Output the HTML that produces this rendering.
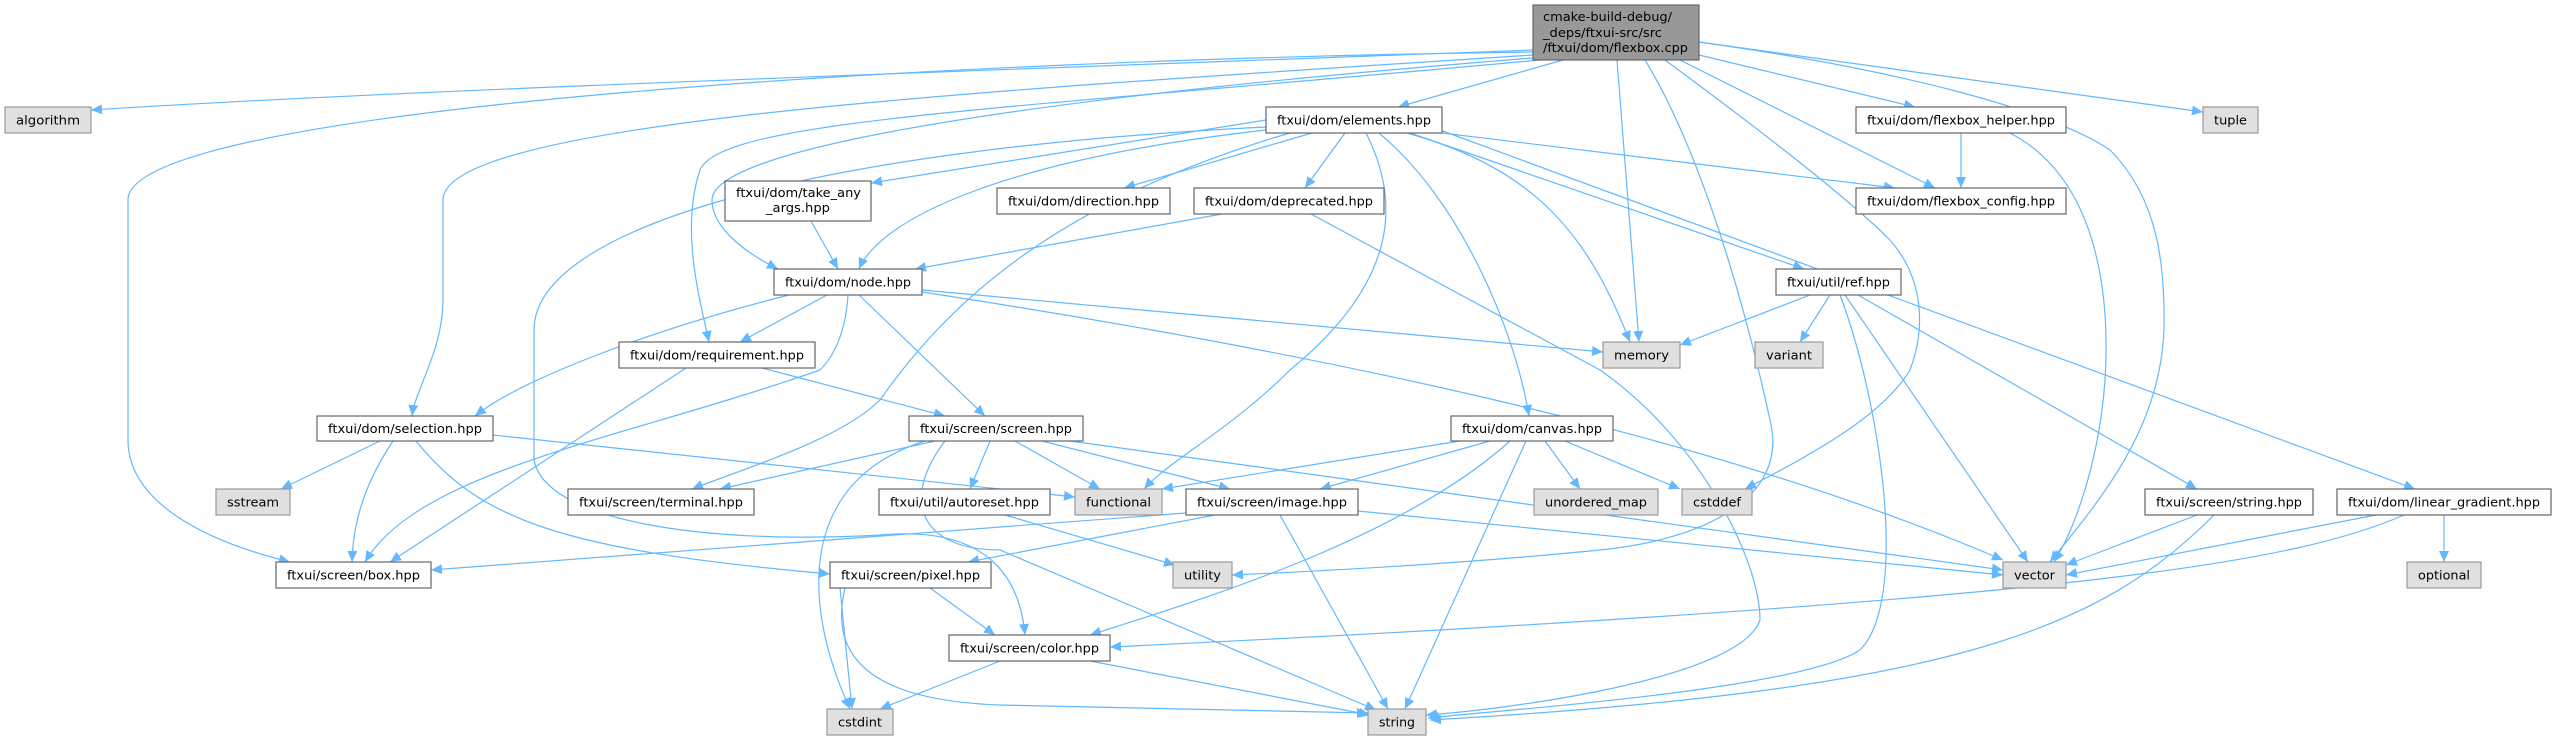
<!DOCTYPE html>
<html><head><meta charset="utf-8"><style>
html,body{margin:0;padding:0;background:#fff;}
svg{display:block;}
text{font-family:"DejaVu Sans","Liberation Sans",sans-serif;font-size:12px;fill:#000;}
.e{fill:none;stroke:#63b8ff;stroke-width:1.2;marker-end:url(#ah);}
.p{fill:#fff;stroke:#666;stroke-width:1.2;}
.x{fill:#e0e0e0;stroke:#999;stroke-width:1.2;}
.r{fill:#999;stroke:#666;stroke-width:1.2;}
</style></head><body>
<svg width="2557" height="740" viewBox="0 0 2557 740" xmlns="http://www.w3.org/2000/svg">
<defs><marker id="ah" markerUnits="userSpaceOnUse" markerWidth="12" markerHeight="10" refX="11" refY="5" orient="auto"><path d="M0,0 L11,5 L0,10 z" fill="#63b8ff"/></marker></defs>
<g>
<path class="e" d="M1533,50 C1000,70 400,90 91,110"/>
<path class="e" d="M1533,52 C900,60 128,110 128,200 L128,440 C128,500 200,540 290,562"/>
<path class="e" d="M1533,55 C1000,90 443,120 443,200 L443,300 C443,350 415,390 412,416"/>
<path class="e" d="M1540,60 C1000,110 720,120 700,170 C680,230 700,300 709,342"/>
<path class="e" d="M1533,58 C1000,100 712,150 712,200 C712,230 750,255 778,269"/>
<path class="e" d="M1563,60 L1398,107"/>
<path class="e" d="M1617,60 L1639,342"/>
<path class="e" d="M1645,60 C1700,150 1744,300 1770,420 C1790,500 1700,540 1600,550 C1450,565 1300,572 1232,575"/>
<path class="e" d="M1665,60 C1760,130 1850,200 1890,240 C1925,280 1925,330 1910,370 C1880,420 1800,460 1745,489"/>
<path class="e" d="M1699,42 C1900,70 2050,110 2110,150 C2160,200 2165,270 2164,330 C2160,430 2100,500 2050,562"/>
<path class="e" d="M1699,42 L2203,112"/>
<path class="e" d="M1699,55 L1915,107"/>
<path class="e" d="M1680,60 L1935,188"/>

<path class="e" d="M1266,120 L871,183"/>
<path class="e" d="M1266,130 C1000,160 880,220 859,269"/>
<path class="e" d="M1312,133 L1124,188"/>
<path class="e" d="M1345,133 L1305,188"/>
<path class="e" d="M1442,133 L1895,188"/>
<path class="e" d="M1410,133 L1804,269"/>
<path class="e" d="M1440,130 L2415,489"/>
<path class="e" d="M1407,133 C1540,170 1590,240 1630,342"/>
<path class="e" d="M1379,133 C1460,200 1515,330 1529,416"/>
<path class="e" d="M1366,133 C1400,200 1400,280 1290,370 C1230,430 1170,460 1144,489"/>
<path class="e" d="M1290,133 C1060,200 950,300 880,400 C840,440 740,470 692,489"/>
<path class="e" d="M1266,127 C800,150 534,230 534,330 L534,460 C545,520 700,545 880,535 C990,525 1020,580 1025,635"/>

<path class="e" d="M789,295 C650,330 520,380 475,416"/>
<path class="e" d="M827,295 L740,342"/>
<path class="e" d="M859,295 L985,416"/>
<path class="e" d="M848,295 C845,340 830,360 820,370 C620,440 420,470 365,562"/>
<path class="e" d="M922,290 L1603,352"/>
<path class="e" d="M922,292 C1300,350 1700,430 2003,560"/>
<path class="e" d="M1222,214 L915,269"/>
<path class="e" d="M1311,214 L1600,370 C1700,440 1760,560 1760,620 C1740,680 1500,710 1426,715"/>
<path class="e" d="M811,221 L838,269"/>

<path class="e" d="M686,368 L390,562"/>
<path class="e" d="M762,368 L945,416"/>

<path class="e" d="M380,441 L281,489"/>
<path class="e" d="M393,441 C360,490 353,530 352,562"/>
<path class="e" d="M493,435 L1075,497"/>
<path class="e" d="M416,441 C480,520 560,550 830,574"/>

<path class="e" d="M935,441 L720,489"/>
<path class="e" d="M990,441 L970,489"/>
<path class="e" d="M1015,441 L1100,489"/>
<path class="e" d="M1042,441 L1230,489"/>
<path class="e" d="M1070,441 L2003,570"/>
<path class="e" d="M945,441 C900,500 920,550 1000,550 L1376,710"/>
<path class="e" d="M925,441 C800,480 800,600 850,709"/>

<path class="e" d="M1005,515 L1175,565"/>
<path class="e" d="M1186,513 L431,570"/>
<path class="e" d="M1215,515 L968,562"/>
<path class="e" d="M1280,515 L1388,709"/>
<path class="e" d="M1358,511 L2003,575"/>

<path class="e" d="M1460,441 L1162,489"/>
<path class="e" d="M1490,441 L1320,489"/>
<path class="e" d="M1545,441 L1580,489"/>
<path class="e" d="M1565,441 L1680,489"/>
<path class="e" d="M1510,441 C1400,540 1200,600 1090,635"/>
<path class="e" d="M1526,441 L1405,709"/>

<path class="e" d="M1810,295 L1680,345"/>
<path class="e" d="M1830,295 L1800,342"/>
<path class="e" d="M1845,295 L2028,562"/>
<path class="e" d="M1840,295 C1880,400 1910,600 1860,650 C1800,690 1500,710 1428,718"/>
<path class="e" d="M1858,295 L2197,489"/>

<path class="e" d="M1961,133 L1961,188"/>
<path class="e" d="M2010,133 C2100,180 2110,300 2105,380 C2100,450 2080,520 2054,562"/>

<path class="e" d="M2197,515 L2066,565"/>
<path class="e" d="M2214,515 C2100,630 1950,690 1430,720"/>

<path class="e" d="M2444,515 L2444,562"/>
<path class="e" d="M2376,515 L2066,575"/>
<path class="e" d="M2404,515 C2300,560 2100,600 1110,647"/>

<path class="e" d="M930,588 L995,635"/>
<path class="e" d="M840,588 L852,709"/>
<path class="e" d="M845,588 C830,650 860,700 1000,705 L1368,713"/>

<path class="e" d="M1000,661 L880,709"/>
<path class="e" d="M1090,661 L1370,715"/>
</g>

<g>
<rect class="r" x="1533" y="5" width="166" height="55"/>
<text x="1543" y="21" textLength="129" lengthAdjust="spacingAndGlyphs">cmake-build-debug/</text>
<text x="1543" y="37" textLength="119" lengthAdjust="spacingAndGlyphs">_deps/ftxui-src/src</text>
<text x="1543" y="52" textLength="145" lengthAdjust="spacingAndGlyphs">/ftxui/dom/flexbox.cpp</text>

<rect class="x" x="5" y="107" width="86" height="26"/><text x="16" y="124.5" textLength="64" lengthAdjust="spacingAndGlyphs">algorithm</text>
<rect class="p" x="1266" y="107" width="176" height="26"/><text x="1277" y="124.5" textLength="154" lengthAdjust="spacingAndGlyphs">ftxui/dom/elements.hpp</text>
<rect class="p" x="1856" y="107" width="210" height="26"/><text x="1867" y="124.5" textLength="188" lengthAdjust="spacingAndGlyphs">ftxui/dom/flexbox_helper.hpp</text>
<rect class="x" x="2203" y="107" width="55" height="26"/><text x="2214" y="124.5" textLength="33" lengthAdjust="spacingAndGlyphs">tuple</text>

<rect class="p" x="725" y="181" width="146" height="40"/>
<text x="736" y="197" textLength="125" lengthAdjust="spacingAndGlyphs">ftxui/dom/take_any</text>
<text x="766" y="212" textLength="64" lengthAdjust="spacingAndGlyphs">_args.hpp</text>
<rect class="p" x="997" y="188" width="173" height="26"/><text x="1008" y="205.5" textLength="151" lengthAdjust="spacingAndGlyphs">ftxui/dom/direction.hpp</text>
<rect class="p" x="1194" y="188" width="190" height="26"/><text x="1205" y="205.5" textLength="168" lengthAdjust="spacingAndGlyphs">ftxui/dom/deprecated.hpp</text>
<rect class="p" x="1856" y="188" width="210" height="26"/><text x="1867" y="205.5" textLength="188" lengthAdjust="spacingAndGlyphs">ftxui/dom/flexbox_config.hpp</text>

<rect class="p" x="774" y="269" width="148" height="26"/><text x="785" y="286.5" textLength="126" lengthAdjust="spacingAndGlyphs">ftxui/dom/node.hpp</text>
<rect class="p" x="1776" y="269" width="125" height="26"/><text x="1787" y="286.5" textLength="103" lengthAdjust="spacingAndGlyphs">ftxui/util/ref.hpp</text>

<rect class="p" x="619" y="342" width="196" height="26"/><text x="630" y="359.5" textLength="174" lengthAdjust="spacingAndGlyphs">ftxui/dom/requirement.hpp</text>
<rect class="x" x="1603" y="342" width="77" height="26"/><text x="1614" y="359.5" textLength="55" lengthAdjust="spacingAndGlyphs">memory</text>
<rect class="x" x="1755" y="342" width="68" height="26"/><text x="1766" y="359.5" textLength="46" lengthAdjust="spacingAndGlyphs">variant</text>

<rect class="p" x="317" y="416" width="176" height="25"/><text x="328" y="433" textLength="154" lengthAdjust="spacingAndGlyphs">ftxui/dom/selection.hpp</text>
<rect class="p" x="909" y="416" width="174" height="25"/><text x="920" y="433" textLength="152" lengthAdjust="spacingAndGlyphs">ftxui/screen/screen.hpp</text>
<rect class="p" x="1451" y="416" width="162" height="25"/><text x="1462" y="433" textLength="140" lengthAdjust="spacingAndGlyphs">ftxui/dom/canvas.hpp</text>

<rect class="x" x="216" y="489" width="74" height="26"/><text x="227" y="506.5" textLength="52" lengthAdjust="spacingAndGlyphs">sstream</text>
<rect class="p" x="568" y="489" width="186" height="26"/><text x="579" y="506.5" textLength="164" lengthAdjust="spacingAndGlyphs">ftxui/screen/terminal.hpp</text>
<rect class="p" x="879" y="489" width="171" height="26"/><text x="890" y="506.5" textLength="149" lengthAdjust="spacingAndGlyphs">ftxui/util/autoreset.hpp</text>
<rect class="x" x="1075" y="489" width="87" height="26"/><text x="1086" y="506.5" textLength="65" lengthAdjust="spacingAndGlyphs">functional</text>
<rect class="p" x="1186" y="489" width="172" height="26"/><text x="1197" y="506.5" textLength="150" lengthAdjust="spacingAndGlyphs">ftxui/screen/image.hpp</text>
<rect class="x" x="1534" y="489" width="124" height="26"/><text x="1545" y="506.5" textLength="102" lengthAdjust="spacingAndGlyphs">unordered_map</text>
<rect class="x" x="1682" y="489" width="70" height="26"/><text x="1693" y="506.5" textLength="48" lengthAdjust="spacingAndGlyphs">cstddef</text>
<rect class="p" x="2145" y="489" width="168" height="26"/><text x="2156" y="506.5" textLength="146" lengthAdjust="spacingAndGlyphs">ftxui/screen/string.hpp</text>
<rect class="p" x="2337" y="489" width="214" height="26"/><text x="2348" y="506.5" textLength="192" lengthAdjust="spacingAndGlyphs">ftxui/dom/linear_gradient.hpp</text>

<rect class="p" x="276" y="562" width="155" height="26"/><text x="287" y="579.5" textLength="133" lengthAdjust="spacingAndGlyphs">ftxui/screen/box.hpp</text>
<rect class="p" x="830" y="562" width="161" height="26"/><text x="841" y="579.5" textLength="139" lengthAdjust="spacingAndGlyphs">ftxui/screen/pixel.hpp</text>
<rect class="x" x="1173" y="562" width="59" height="26"/><text x="1184" y="579.5" textLength="37" lengthAdjust="spacingAndGlyphs">utility</text>
<rect class="x" x="2003" y="562" width="63" height="26"/><text x="2014" y="579.5" textLength="41" lengthAdjust="spacingAndGlyphs">vector</text>
<rect class="x" x="2407" y="562" width="74" height="26"/><text x="2418" y="579.5" textLength="52" lengthAdjust="spacingAndGlyphs">optional</text>

<rect class="p" x="949" y="635" width="161" height="26"/><text x="960" y="652.5" textLength="139" lengthAdjust="spacingAndGlyphs">ftxui/screen/color.hpp</text>

<rect class="x" x="827" y="709" width="66" height="26"/><text x="838" y="726.5" textLength="44" lengthAdjust="spacingAndGlyphs">cstdint</text>
<rect class="x" x="1368" y="709" width="58" height="26"/><text x="1379" y="726.5" textLength="36" lengthAdjust="spacingAndGlyphs">string</text>
</g>
</svg>
</body></html>
